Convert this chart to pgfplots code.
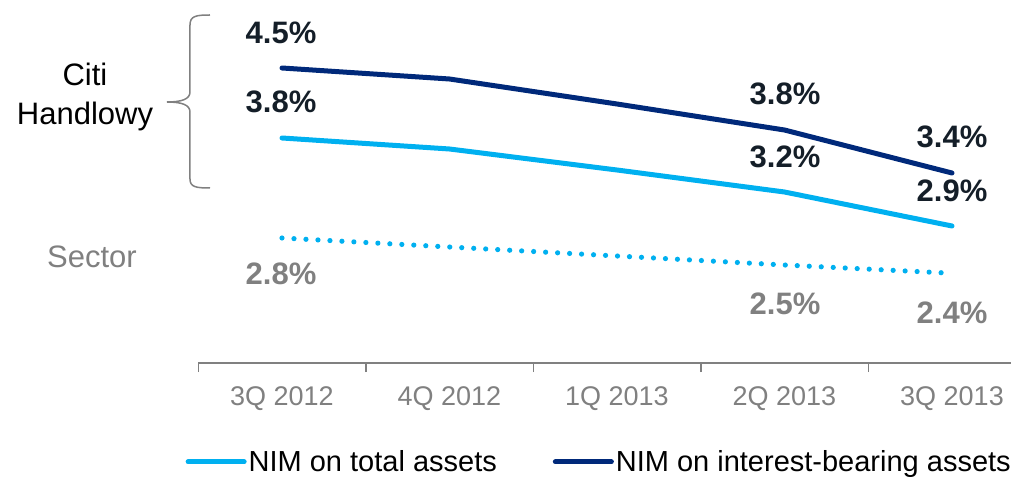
\documentclass[border=0pt]{standalone}
\usepackage{fontspec}
\setmainfont{Liberation Sans}
\usepackage{pgfplots}
\pgfplotsset{compat=1.18}
\definecolor{navy}{RGB}{0,41,122}
\definecolor{lblue}{RGB}{0,176,240}
\definecolor{txtdark}{RGB}{20,30,40}
\definecolor{txtgray}{RGB}{128,128,128}
\definecolor{axgray}{RGB}{128,128,128}
\begin{document}
\begin{tikzpicture}
\begin{axis}[
  x=83.75pt, y=50pt,
  xmin=-0.5, xmax=4.35, ymin=1.55, ymax=5.18,
  axis x line*=bottom, axis y line=none,
  axis line style={axgray, line width=0.75pt},
  xtick={0,1,2,3,4},
  xticklabels={3Q 2012,4Q 2012,1Q 2013,2Q 2013,3Q 2013},
  major tick length=0pt,
  minor xtick={-0.5,0.5,1.5,2.5,3.5},
  minor tick length=4.5pt,
  tick align=outside,
  minor tick style={axgray, line width=0.75pt},
  xticklabel style={anchor=base, yshift=-21pt, text=txtgray, font=\fontsize{13.5}{16}\selectfont},
  clip=false,
  legend columns=2,
  legend style={draw=none, fill=none, at={(axis description cs:-0.016,-0.2727)}, anchor=west,
    inner sep=0pt, font=\fontsize{14.5}{17}\selectfont, nodes={inner sep=1pt},
    /tikz/every even column/.append style={column sep=27pt}},
  legend image code/.code={\draw[#1] (0pt,0pt) -- (28pt,0pt);},
]
\addplot[lblue, line width=2.5pt, line cap=round] coordinates {(0,3.80) (1,3.69) (2,3.48) (3,3.26) (4,2.92)};
\addlegendentry{NIM on total assets}
\addplot[navy, line width=2.5pt, line cap=round] coordinates {(0,4.50) (1,4.39) (2,4.14) (3,3.88) (4,3.45)};
\addlegendentry{NIM on interest-bearing assets}
\addplot[lblue, line width=2.6pt, line cap=round, dash pattern=on 0pt off 6pt, forget plot] coordinates {(0,2.80) (1,2.71) (2,2.62) (3,2.53) (3.97,2.45)};
\coordinate (TL) at (axis cs:-1.6836,5.18);
\coordinate (BR) at (axis cs:4.3821,0.42);
\end{axis}
\begin{scope}[shift={(TL)}, x=0.5pt, y=-0.5pt]
  \tikzset{lab/.style={font=\fontsize{15.5}{18}\selectfont\bfseries, text=txtdark, inner sep=0pt},
           glab/.style={lab, text=txtgray}}
  \node[lab] at (281,33) {4.5\%};
  \node[lab] at (281,102) {3.8\%};
  \node[glab] at (281,274) {2.8\%};
  \node[lab] at (785,94) {3.8\%};
  \node[lab] at (785,157) {3.2\%};
  \node[glab] at (785,304) {2.5\%};
  \node[lab] at (952,137) {3.4\%};
  \node[lab] at (952,191) {2.9\%};
  \node[glab] at (952,313) {2.4\%};
  \node[align=center, font=\fontsize{15.5}{19.5}\selectfont, text=black, inner sep=0pt] at (85,97) {Citi\\Handlowy};
  \node[font=\fontsize{15.5}{19}\selectfont, text=txtgray, inner sep=0pt] at (92,257) {Sector};
  \draw[axgray, line width=0.75pt] (210,15) .. controls (196,15) and (190,16) .. (190,25) -- (190,92)
     .. controls (190,99) and (182,102) .. (167,102) .. controls (182,102) and (190,105) .. (190,112)
     -- (190,179) .. controls (190,187) and (196,188) .. (210,188);
\end{scope}
\pgfresetboundingbox
\path[use as bounding box] (TL) rectangle (BR);
\end{tikzpicture}
\end{document}
